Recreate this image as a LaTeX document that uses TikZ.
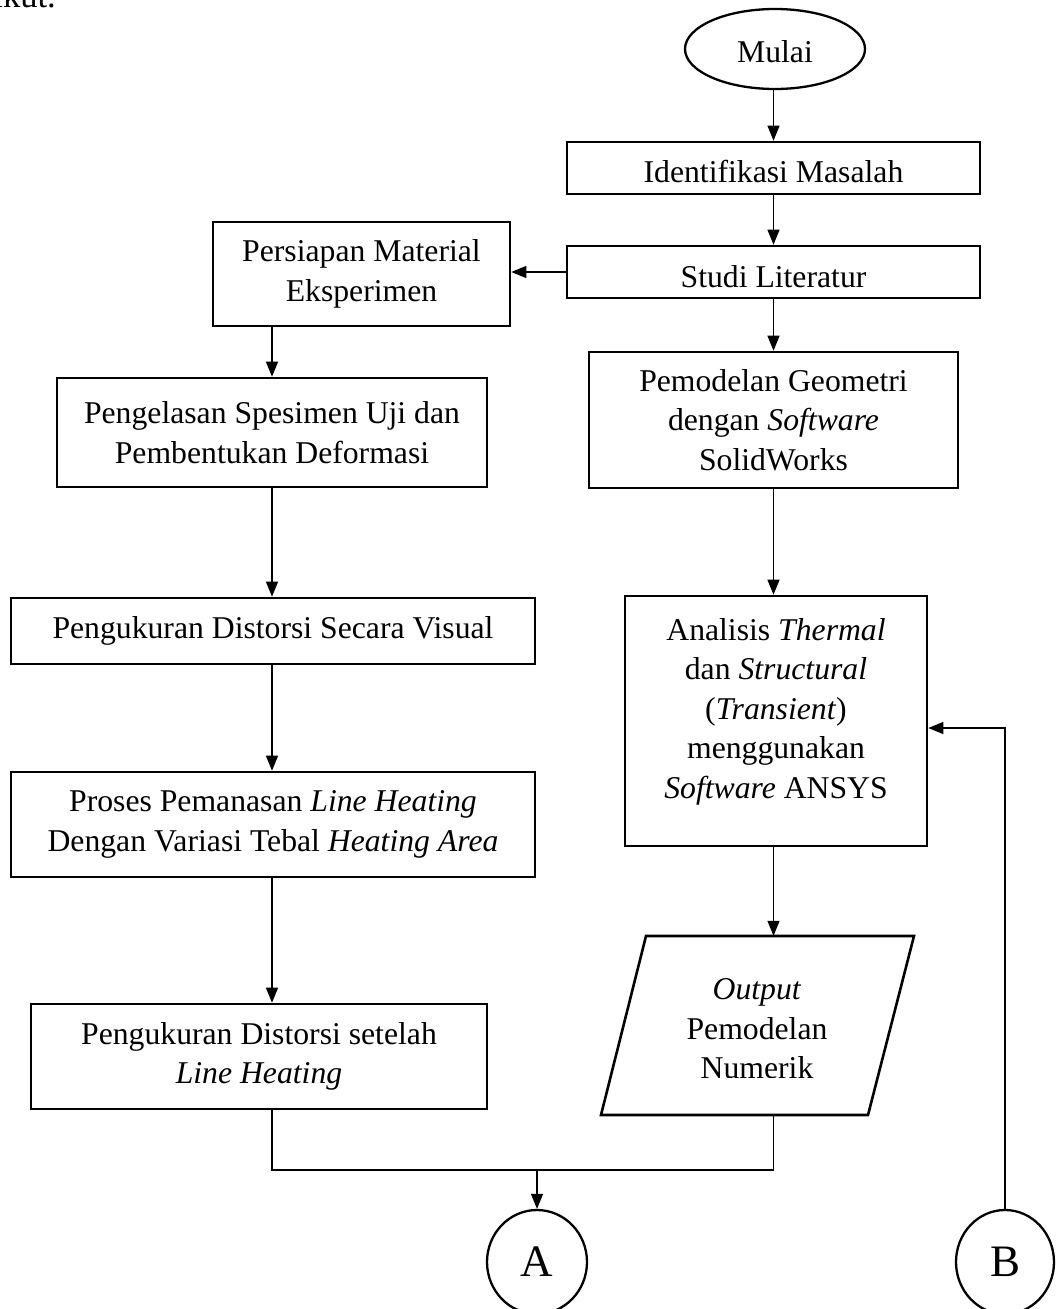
\documentclass[tikz,border=0pt]{standalone}
\usepackage{fontspec}
\setmainfont{Liberation Serif}
\usetikzlibrary{arrows.meta,shapes.geometric,calc}
\begin{document}
\begin{tikzpicture}[x=1pt,y=-1pt,
  box/.style={draw, line width=2.6pt, rectangle, inner sep=0pt, align=center, font=\fontsize{31.7}{39.5}\selectfont},
  txt/.style={inner sep=0pt, align=center, font=\fontsize{31.7}{39.5}\selectfont},
  term/.style={draw, line width=2.3pt, ellipse, inner sep=0pt, font=\fontsize{31.7}{39.5}\selectfont},
  conn/.style={draw, line width=2.3pt, ellipse, inner sep=0pt, font=\fontsize{45}{50}\selectfont},
  line/.style={line width=1.2pt},
  arr/.style={line width=1.2pt, -{Triangle[length=15pt,width=12pt]}}
]
\useasboundingbox (0,0) rectangle (1056,1309);

\node[txt, anchor=base west, font=\fontsize{34.6}{40}\selectfont] (prev) at (-51,8) {berikut.};

\node[term, minimum width=180pt, minimum height=80pt, text height=26pt, text depth=0pt] (mulai) at (775,49) {Mulai};
\node[box, minimum width=413pt, minimum height=52pt, text height=28pt, text depth=0pt] (ident) at (773.5,168) {Identifikasi Masalah};
\node[box, minimum width=413pt, minimum height=52pt, text height=30pt, text depth=0pt] (studi) at (773.5,272) {Studi Literatur};
\node[box, minimum width=297pt, minimum height=104pt] (pers) at (361.5,274) {Persiapan Material\\Eksperimen};
\node[box, minimum width=430pt, minimum height=109pt] (peng) at (272,432.5) {Pengelasan Spesimen Uji dan\\Pembentukan Deformasi};
\node[box, minimum width=369pt, minimum height=136pt] (geo) at (773.5,420) {Pemodelan Geometri\\dengan \textit{Software}\\SolidWorks};
\node[box, minimum width=524pt, minimum height=66pt] (vis) at (273,631) {Pengukuran Distorsi Secara Visual};
\node[box, minimum width=302pt, minimum height=250pt, text depth=26pt] (anal) at (776,721) {Analisis \textit{Thermal}\\dan \textit{Structural}\\(\textit{Transient})\\menggunakan\\\textit{Software} ANSYS};
\node[box, minimum width=524pt, minimum height=105pt] (pros) at (273,824.5) {Proses Pemanasan \textit{Line Heating}\\Dengan Variasi Tebal \textit{Heating Area}};
\node[box, minimum width=456pt, minimum height=105pt] (set) at (259,1056.5) {Pengukuran Distorsi setelah\\\textit{Line Heating}};

% output parallelogram
\node[minimum width=268pt, minimum height=179pt, inner sep=0pt] (out) at (757.25,1025.5) {};
\draw[line width=2.6pt, line join=miter] (646,936) -- (914,936) -- (868,1115) -- (601,1115) -- cycle;
\begin{scope}
  \clip (600,930) rectangle (920,1077.5);
  \node[txt] (outtxt) at (757,1029) {\textit{Output}\\Pemodelan\\Numerik};
\end{scope}

\node[conn, minimum width=100pt, minimum height=104pt] (A) at (537,1262) {A};
\node[conn, minimum width=98pt, minimum height=104pt] (B) at (1005,1262) {B};

\coordinate (jy) at (0,1170);
\coordinate (fy) at (0,728);

\draw[arr] (mulai.south -| ident.north) -- (ident.north);
\draw[arr] (ident.south) -- (studi.north);
\draw[arr] (studi.west) -- (studi.west -| pers.east);
\draw[arr] (studi.south) -- (geo.north);
\draw[arr] (pers.south -| peng.north) -- (peng.north);
\draw[arr] (peng.south) -- (peng.south |- vis.north);
\draw[arr] (peng.south |- vis.south) -- (peng.south |- pros.north);
\draw[arr] (peng.south |- pros.south) -- (peng.south |- set.north);
\draw[arr] (geo.south) -- (geo.south |- anal.north);
\draw[arr] (geo.south |- anal.south) -- (geo.south |- out.north);
\draw[line] (peng.south |- set.south) -- (peng.south |- jy) -- (geo.south |- jy) -- (geo.south |- out.south);
\draw[arr] (A.north |- jy) -- (A.north);
\draw[arr] (B.north) -- (B.north |- fy) -- (anal.east |- fy);
\end{tikzpicture}
\end{document}
